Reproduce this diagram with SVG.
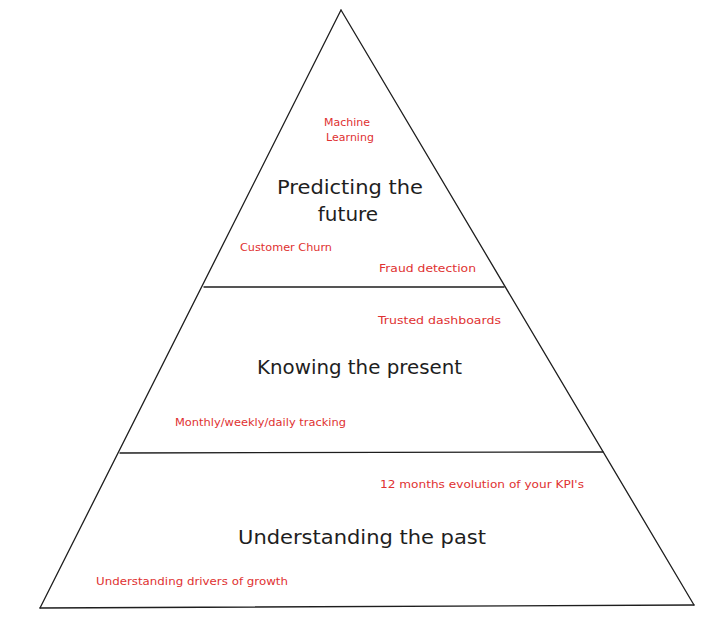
<svg xmlns="http://www.w3.org/2000/svg" width="728" height="627" viewBox="0 0 728 627">
<style>
.edge{fill:none;stroke:#1e1e1e;stroke-width:1.3;stroke-linecap:round;stroke-linejoin:round}
.title{font-family:"DejaVu Sans","Noto Sans",sans-serif;font-size:20px;fill:#1e1e1e}
.note{font-family:"DejaVu Sans","Noto Sans",sans-serif;font-size:11px;fill:#e03131}
</style>
<rect width="728" height="627" fill="#ffffff"/>
<g id="outline">
<path class="edge" d="M341 10 L40 608"/>
<path class="edge" d="M341 10 L694 605"/>
<path class="edge" d="M40 608 L694 605"/>
<path class="edge" d="M204 287 L504 287"/>
<path class="edge" d="M120 453 L603 452"/>
</g>
<g id="tier-future">
<text class="note" x="347" y="126" text-anchor="middle">Machine</text>
<text class="note" x="350" y="141" text-anchor="middle">Learning</text>
<text class="title" x="350" y="194" text-anchor="middle" textLength="146" lengthAdjust="spacingAndGlyphs">Predicting the</text>
<text class="title" x="348" y="221" text-anchor="middle">future</text>
<text class="note" x="240" y="251" textLength="92" lengthAdjust="spacingAndGlyphs">Customer Churn</text>
<text class="note" x="379" y="272" textLength="97" lengthAdjust="spacingAndGlyphs">Fraud detection</text>
</g>
<g id="tier-present">
<text class="note" x="378" y="324" textLength="123" lengthAdjust="spacingAndGlyphs">Trusted dashboards</text>
<text class="title" x="257" y="374" textLength="205" lengthAdjust="spacingAndGlyphs">Knowing the present</text>
<text class="note" x="175" y="426" textLength="171" lengthAdjust="spacingAndGlyphs">Monthly/weekly/daily tracking</text>
</g>
<g id="tier-past">
<text class="note" x="380" y="488" textLength="204" lengthAdjust="spacingAndGlyphs">12 months evolution of your KPI's</text>
<text class="title" x="238" y="544" textLength="248" lengthAdjust="spacingAndGlyphs">Understanding the past</text>
<text class="note" x="96" y="585" textLength="192" lengthAdjust="spacingAndGlyphs">Understanding drivers of growth</text>
</g>
</svg>
